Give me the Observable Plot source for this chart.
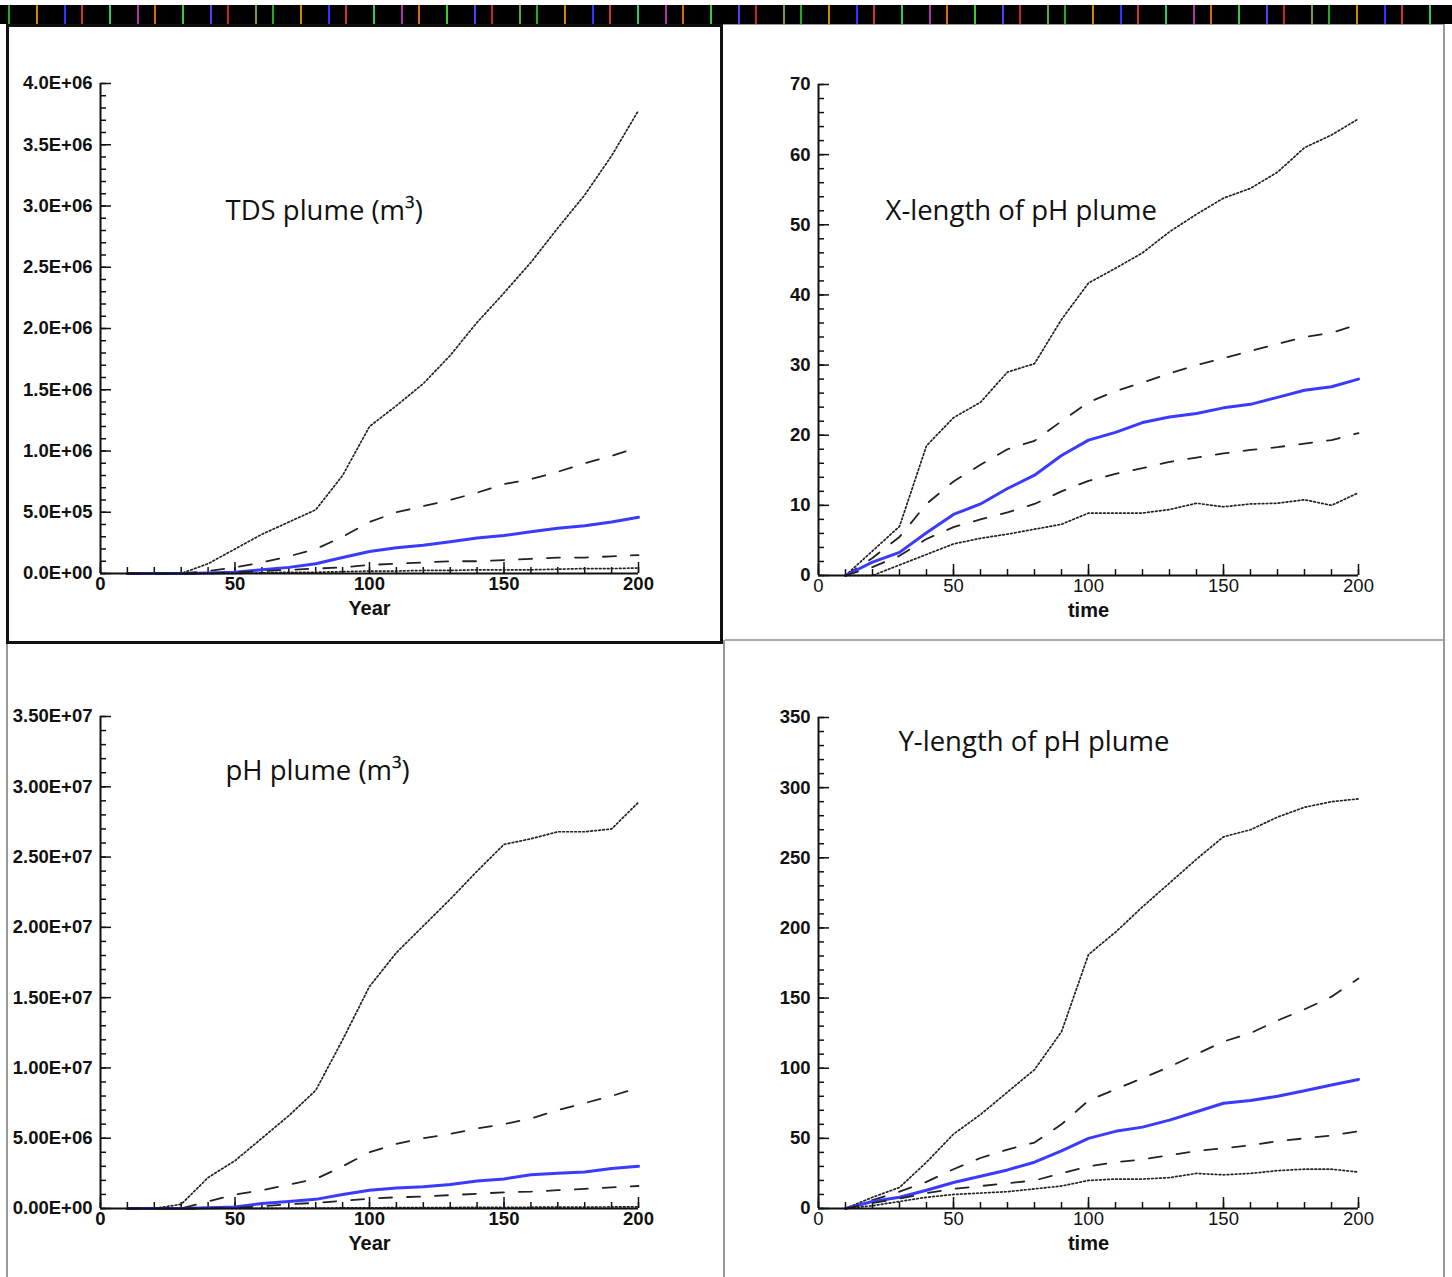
<!DOCTYPE html>
<html><head><meta charset="utf-8">
<script src="https://cdn.jsdelivr.net/npm/d3@7"></script>
<script src="https://cdn.jsdelivr.net/npm/@observablehq/plot@0.6"></script>
<style>
html,body{margin:0;padding:0;background:#fff;}
#root{position:relative;width:1452px;height:1277px;overflow:hidden;background:#fff;}
.strip{position:absolute;left:0;top:5px;width:1452px;height:19px;background:#000;}
.b1{position:absolute;left:6px;top:24px;width:711px;height:614px;border:3px solid #111;}
.vline{position:absolute;left:723px;top:640px;width:2px;height:637px;background:#999;}
.hline{position:absolute;left:725px;top:639px;width:720px;height:2px;background:#aaa;}
.rline{position:absolute;left:1443px;top:24px;width:2px;height:1253px;background:#999;}
.lline{position:absolute;left:6px;top:644px;width:2px;height:633px;background:#999;}
.tline{position:absolute;left:723px;top:24px;width:722px;height:1px;background:#999;}
</style></head><body><div id="root">
<div class="strip" id="strip"></div>
</div>
<script>
// ---------- data ----------
const years = [10,20,30,40,50,60,70,80,90,100,110,120,130,140,150,160,170,180,190,200];

// TDS plume (m3)
const tdsDotHi  = [0,0,0,0.08e6,0.2e6,0.32e6,0.42e6,0.52e6,0.8e6,1.2e6,1.37e6,1.55e6,1.78e6,2.05e6,2.29e6,2.54e6,2.82e6,3.09e6,3.41e6,3.78e6];
const tdsDashHi = [0,0,0,0.02e6,0.05e6,0.09e6,0.14e6,0.2e6,0.3e6,0.42e6,0.5e6,0.55e6,0.6e6,0.66e6,0.73e6,0.77e6,0.83e6,0.9e6,0.96e6,1.03e6];
const tdsMean   = [0,0,0,0.005e6,0.01e6,0.03e6,0.05e6,0.08e6,0.13e6,0.18e6,0.21e6,0.23e6,0.26e6,0.29e6,0.31e6,0.34e6,0.37e6,0.39e6,0.42e6,0.46e6];
const tdsDashLo = [0,0,0,0,0.01e6,0.02e6,0.03e6,0.04e6,0.05e6,0.07e6,0.08e6,0.09e6,0.1e6,0.1e6,0.11e6,0.12e6,0.13e6,0.13e6,0.14e6,0.15e6];
const tdsDotLo  = [0,0,0,0,0,0.005e6,0.01e6,0.01e6,0.015e6,0.02e6,0.02e6,0.025e6,0.025e6,0.03e6,0.03e6,0.03e6,0.035e6,0.04e6,0.04e6,0.045e6];

// X-length of pH plume
const xlDotHi  = [0,3.5,7,18.5,22.5,24.7,29,30.2,36.5,41.7,43.8,46,49,51.5,53.8,55.2,57.5,61,62.8,65.1];
const xlDashHi = [0,2.5,5.5,10.2,13.4,15.8,18,19.2,22,24.7,26.3,27.5,28.8,30,31,32,33,34,34.6,35.8];
const xlMean   = [0,1.9,3.3,6.1,8.7,10.2,12.4,14.3,17.1,19.3,20.4,21.8,22.6,23.1,23.9,24.4,25.4,26.4,26.9,28];
const xlDashLo = [0,1.2,2.8,5.2,6.9,8,9,10.2,12,13.5,14.5,15.3,16.2,16.8,17.4,17.9,18.3,18.8,19.3,20.3];
const xlDotLo  = [0,0,1.5,3,4.5,5.3,5.9,6.6,7.3,8.9,8.9,8.9,9.4,10.3,9.8,10.2,10.3,10.8,10,11.8];

// pH plume (m3)
const phDotHi  = [0,0,0.3e6,2.2e6,3.4e6,5.0e6,6.6e6,8.4e6,12e6,15.8e6,18.2e6,20.1e6,22e6,24e6,25.9e6,26.3e6,26.8e6,26.8e6,27e6,28.9e6];
const phDashHi = [0,0,0,0.5e6,1.0e6,1.3e6,1.7e6,2.1e6,3.0e6,4.0e6,4.6e6,5.0e6,5.3e6,5.7e6,6.0e6,6.4e6,7.0e6,7.5e6,8.0e6,8.6e6];
const phMean   = [0,0,0,0.05e6,0.1e6,0.35e6,0.5e6,0.65e6,1.0e6,1.3e6,1.45e6,1.55e6,1.7e6,1.95e6,2.1e6,2.4e6,2.5e6,2.6e6,2.85e6,3.0e6];
const phDashLo = [0,0,0,0,0.05e6,0.15e6,0.3e6,0.4e6,0.55e6,0.7e6,0.8e6,0.85e6,0.95e6,1.05e6,1.15e6,1.2e6,1.3e6,1.4e6,1.5e6,1.6e6];
const phDotLo  = [0,0,0,0,0,0.01e6,0.02e6,0.03e6,0.04e6,0.05e6,0.06e6,0.06e6,0.07e6,0.08e6,0.08e6,0.09e6,0.1e6,0.1e6,0.11e6,0.12e6];

// Y-length of pH plume
const ylDotHi  = [0,8,15,33,53,67,83,99,126,181,197,215,232,249,265,270,279,286,290,292];
const ylDashHi = [0,6,12,19,28,36,42,47,60,77,85,93,101,110,119,125,134,142,151,164];
const ylMean   = [0,5,8,13,18.5,23,27.5,33,41,50,55,58,63,69,75,77,80,84,88,92];
const ylDashLo = [0,4,7,11,14,16,18,20,25,30,33,35,38,41,43,45,48,50,52,55];
const ylDotLo  = [0,2,5,8,10,11,12,14,16,20,21,21,22,25,24,25,27,28,28,26];

// axis ticks
const xMajor = [0,50,100,150,200];
const xMinor = d3.range(0,201,10);
const tdsMajor = [0,0.5e6,1e6,1.5e6,2e6,2.5e6,3e6,3.5e6,4e6];
const tdsMinor = d3.range(0,4.0001e6,1e5);
const xlMajor = [0,10,20,30,40,50,60,70];
const xlMinor = d3.range(0,70.001,2);
const phMajor = [0,5e6,10e6,15e6,20e6,25e6,30e6,35e6];
const phMinor = d3.range(0,35.0001e6,1e6);
const ylMajor = [0,50,100,150,200,250,300,350];
const ylMinor = d3.range(0,350.001,10);

// ---------- helpers ----------
function sci(d, digits) {
  if (d === 0) return (0).toFixed(digits) + "E+00";
  const e = Math.floor(Math.log10(Math.abs(d)) + 1e-9);
  const m = d / Math.pow(10, e);
  return m.toFixed(digits) + "E" + (e < 0 ? "-" : "+") + String(Math.abs(e)).padStart(2, "0");
}

const seriesStyles = [
  {key: "dotHi",  stroke: "#222", strokeWidth: 1.7, dash: "1.7,2.3"},
  {key: "dashHi", stroke: "#222", strokeWidth: 1.8, dash: "13,15"},
  {key: "mean",   stroke: "#3b3bff", strokeWidth: 3, dash: null},
  {key: "dashLo", stroke: "#222", strokeWidth: 1.8, dash: "13,15"},
  {key: "dotLo",  stroke: "#222", strokeWidth: 1.7, dash: "1.7,2.3"}
];

function panel(cfg) {
  const marks = [];
  marks.push(Plot.axisY({ticks: cfg.yMinor, tickSize: -6, tickFormat: () => "", label: null, strokeWidth: 1.5, stroke: "#111"}));
  marks.push(Plot.axisY({ticks: cfg.yMajor, tickSize: -11, tickFormat: () => "", label: null, strokeWidth: 1.5, stroke: "#111"}));
  marks.push(Plot.axisY({ticks: cfg.yMajor, tickSize: 0, tickPadding: 8, tickFormat: cfg.yFmt, label: null,
    fontSize: 18.5, fontWeight: "bold", fill: "#111"}));
  marks.push(Plot.axisX({ticks: xMinor, tickSize: -6, tickFormat: () => "", label: null, strokeWidth: 1.5, stroke: "#111"}));
  marks.push(Plot.axisX({ticks: xMajor, tickSize: -11, tickFormat: () => "", label: null, strokeWidth: 1.5, stroke: "#111"}));
  marks.push(Plot.axisX({ticks: xMajor, tickSize: 0, tickPadding: 3, tickFormat: d => String(d), label: null,
    fontSize: 18.5, fontWeight: cfg.xBold ? "bold" : "normal", fill: "#111"}));
  seriesStyles.forEach(s => {
    const rows = years.map((t, i) => ({t, v: cfg.series[s.key][i]}));
    marks.push(Plot.line(rows, {x: "t", y: "v", stroke: s.stroke, strokeWidth: s.strokeWidth,
      strokeDasharray: s.dash, strokeLinejoin: "round", curve: "linear"}));
  });
  marks.push(Plot.ruleX([0], {stroke: "#111", strokeWidth: 2}));
  marks.push(Plot.ruleY([0], {stroke: "#111", strokeWidth: 2}));
  marks.push(Plot.text([cfg.xLabel], {frameAnchor: "bottom", text: d => d, dy: 35, lineAnchor: "middle",
    fontSize: 20, fontWeight: "bold", fill: "#111"}));
  marks.push(Plot.text([cfg.note], {frameAnchor: "top-left", text: d => d, dx: cfg.noteDx, dy: cfg.noteDy,
    textAnchor: "start", lineAnchor: "middle", fontSize: 27.5, fontFamily: "Open Sans", fontWeight: "normal", fill: "#111"}));
  const svg = Plot.plot({
    width: cfg.width, height: cfg.height,
    marginLeft: cfg.ml, marginRight: cfg.mr, marginTop: cfg.mt, marginBottom: cfg.mb,
    x: {domain: [0, 200], label: null},
    y: {domain: [0, cfg.yMax], label: null},
    style: {fontFamily: "'Liberation Sans', Arial, sans-serif", background: "transparent", overflow: "visible"},
    marks
  });
  svg.style.position = "absolute";
  svg.style.left = cfg.left + "px";
  svg.style.top = cfg.top + "px";
  return svg;
}

const root = document.getElementById("root");
["b1","tline","vline","hline","rline","lline"].forEach(c => {
  const d = document.createElement("div"); d.className = c; root.appendChild(d);
});

// decorative colored stripes in the top bar
const stripeColors = ["#2a2","#c80","#33f","#c33","#2c6","#a3a","#d60","#3c3","#44f","#c22","#6a2"];
const strip = document.getElementById("strip");
const stops = [];
for (let i = 0; i < 60; i++) {
  const x = 8 + i * 24 + (i * 37 % 11);
  const c = stripeColors[i % stripeColors.length];
  stops.push(`transparent ${x}px, ${c} ${x}px, ${c} ${x + 2}px, transparent ${x + 2}px`);
}
strip.style.backgroundImage = `linear-gradient(90deg, ${stops.join(",")})`;

root.appendChild(panel({
  left: 0, top: 25, width: 724, height: 618, ml: 100, mr: 86, mt: 58, mb: 70,
  yMax: 4e6, yMajor: tdsMajor, yMinor: tdsMinor, yFmt: d => sci(d, 1), xBold: true,
  series: {dotHi: tdsDotHi, dashHi: tdsDashHi, mean: tdsMean, dashLo: tdsDashLo, dotLo: tdsDotLo},
  xLabel: "Year", note: "TDS plume (m³)", noteDx: 125, noteDy: 128
}));
root.appendChild(panel({
  left: 724, top: 25, width: 720, height: 615, ml: 94, mr: 86, mt: 59, mb: 65,
  yMax: 70, yMajor: xlMajor, yMinor: xlMinor, yFmt: d => String(d), xBold: false,
  series: {dotHi: xlDotHi, dashHi: xlDashHi, mean: xlMean, dashLo: xlDashLo, dotLo: xlDotLo},
  xLabel: "time", note: "X-length of pH plume", noteDx: 67, noteDy: 127
}));
root.appendChild(panel({
  left: 0, top: 643, width: 724, height: 634, ml: 100, mr: 86, mt: 73, mb: 69,
  yMax: 35e6, yMajor: phMajor, yMinor: phMinor, yFmt: d => sci(d, 2), xBold: true,
  series: {dotHi: phDotHi, dashHi: phDashHi, mean: phMean, dashLo: phDashLo, dotLo: phDotLo},
  xLabel: "Year", note: "pH plume (m³)", noteDx: 125, noteDy: 55
}));
root.appendChild(panel({
  left: 724, top: 640, width: 720, height: 637, ml: 94, mr: 86, mt: 77, mb: 69,
  yMax: 350, yMajor: ylMajor, yMinor: ylMinor, yFmt: d => String(d), xBold: false,
  series: {dotHi: ylDotHi, dashHi: ylDashHi, mean: ylMean, dashLo: ylDashLo, dotLo: ylDotLo},
  xLabel: "time", note: "Y-length of pH plume", noteDx: 80, noteDy: 25
}));
</script></body></html>
